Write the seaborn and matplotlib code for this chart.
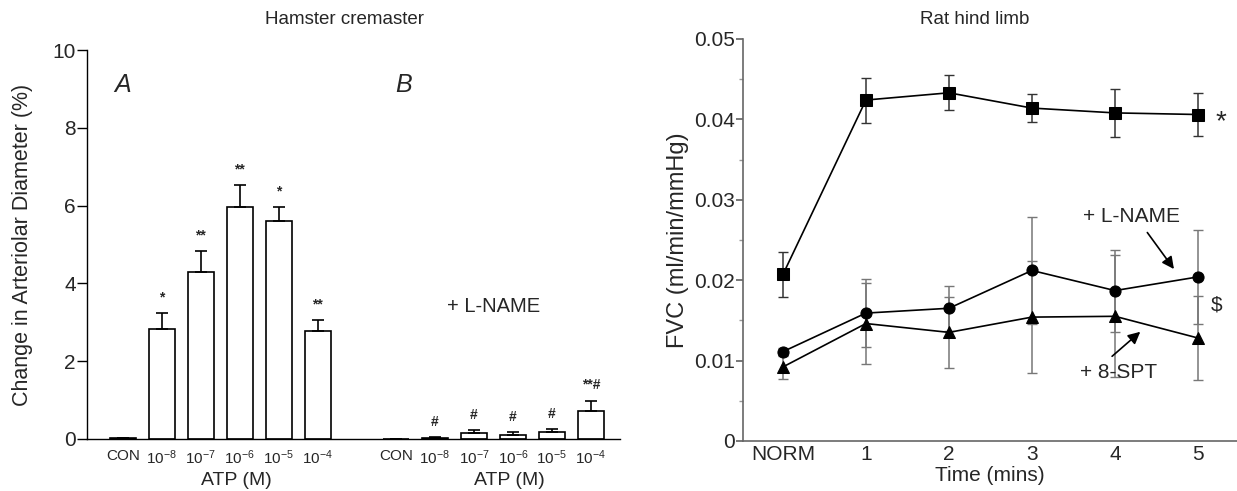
import matplotlib
matplotlib.use("Agg")
import matplotlib.pyplot as plt
import seaborn as sns
import pandas as pd
import numpy as np

sns.set_theme(style="ticks")
plt.rcParams['font.family'] = ['Liberation Sans', 'DejaVu Sans']
plt.rcParams['mathtext.default'] = 'regular'

# ---------------- data: Hamster cremaster ----------------
conc_labels = ["CON", "$10^{-8}$", "$10^{-7}$", "$10^{-6}$", "$10^{-5}$", "$10^{-4}$"]
ctrl_vals = [0.03, 2.84, 4.29, 5.96, 5.61, 2.77]
ctrl_err = [0.0, 0.40, 0.55, 0.57, 0.35, 0.28]
ctrl_sig = ["", "*", "**", "**", "*", "**"]
lname_vals = [0.0, 0.03, 0.16, 0.10, 0.18, 0.73]
lname_err = [0.0, 0.01, 0.06, 0.07, 0.07, 0.25]
lname_sig = ["", "#", "#", "#", "#", "**#"]

# ---------------- data: Rat hind limb ----------------
time_labels = ["NORM", "1", "2", "3", "4", "5"]
ctrl_fvc = [0.0207, 0.0424, 0.0433, 0.0414, 0.0408, 0.0406]
ctrl_fvc_err = [0.0028, 0.0028, 0.0022, 0.0017, 0.0030, 0.0027]
lname_fvc = [0.0111, 0.0159, 0.0165, 0.0212, 0.0187, 0.0204]
lname_fvc_err = [0.0005, 0.0042, 0.0028, 0.0067, 0.0051, 0.0058]
spt_fvc = [0.0092, 0.0146, 0.0135, 0.0154, 0.0155, 0.0128]
spt_fvc_err = [0.0015, 0.0050, 0.0044, 0.0070, 0.0076, 0.0052]

fig = plt.figure(figsize=(12.37, 4.91), dpi=100)
axL = fig.add_axes([0.0703, 0.106, 0.4307, 0.792])
axR = fig.add_axes([0.6007, 0.102, 0.3993, 0.8187])

# ---------- left panel ----------
keysA = ["A%d" % i for i in range(6)]
keysB = ["B%d" % i for i in range(6)]
order = keysA + ["gap"] + keysB
dfL = pd.DataFrame({"key": keysA + keysB, "val": ctrl_vals + lname_vals})
sns.barplot(data=dfL, x="key", y="val", order=order, ax=axL, width=0.65,
            color="white", edgecolor="black", linewidth=1.2, errorbar=None)
posA = np.arange(6)
posB = np.arange(7, 13)
for pos, vals, errs in [(posA, ctrl_vals, ctrl_err), (posB, lname_vals, lname_err)]:
    axL.errorbar(pos, vals, yerr=[np.zeros(6), errs], fmt="none", ecolor="black",
                 elinewidth=1.2, capsize=4, capthick=1.2)
for pos, vals, errs, sig in [(posA, ctrl_vals, ctrl_err, ctrl_sig), (posB, lname_vals, lname_err, lname_sig)]:
    for p, v, e, s in zip(pos, vals, errs, sig):
        if s:
            axL.text(p, v + e + 0.22, s, ha="center", va="bottom", fontsize=10, fontweight="bold")

axL.set_xlim(-0.92, 12.74)
axL.set_ylim(0, 10)
axL.set_yticks([0, 2, 4, 6, 8, 10])
axL.set_xticks(list(posA) + list(posB))
axL.set_xticklabels(conc_labels + conc_labels, fontsize=11)
axL.tick_params(axis="x", length=0, pad=7)
axL.tick_params(axis="y", labelsize=15, length=7, width=1, color="black", pad=1)
axL.set_xlabel("")
axL.set_ylabel("Change in Arteriolar Diameter (%)", fontsize=15.5)
axL.yaxis.set_label_coords(-0.101, 0.5)
for sp in ["top", "right"]:
    axL.spines[sp].set_visible(False)
for sp in ["left", "bottom"]:
    axL.spines[sp].set_color("black")
    axL.spines[sp].set_linewidth(1.0)
axL.text(2.9, -0.108, "ATP (M)", transform=axL.get_xaxis_transform(), ha="center", va="center", fontsize=14)
axL.text(9.9, -0.108, "ATP (M)", transform=axL.get_xaxis_transform(), ha="center", va="center", fontsize=14)
axL.text(0.0, 9.1, "A", fontsize=18, fontstyle="italic", ha="center", va="center")
axL.text(7.2, 9.1, "B", fontsize=18, fontstyle="italic", ha="center", va="center")
axL.text(9.5, 3.4, "+ L-NAME", fontsize=14.5, ha="center", va="center")
fig.text(345 / 1237, 1 - 19 / 491, "Hamster cremaster", ha="center", va="center", fontsize=13.5)

# ---------- right panel ----------
x = np.arange(6)
dfR = pd.DataFrame({
    "t": np.concatenate([x, x, x]),
    "fvc": ctrl_fvc + lname_fvc + spt_fvc,
    "grp": ["ctrl"] * 6 + ["lname"] * 6 + ["spt"] * 6,
})
for errs, vals, col in [(lname_fvc_err, lname_fvc, "#777777"), (spt_fvc_err, spt_fvc, "#777777"),
                        (ctrl_fvc_err, ctrl_fvc, "#333333")]:
    axR.errorbar(x, vals, yerr=errs, fmt="none", ecolor=col, elinewidth=1.1, capsize=3.5, capthick=1.0)
sns.lineplot(data=dfR, x="t", y="fvc", style="grp", markers={"ctrl": "s", "lname": "o", "spt": "^"},
             dashes=False, color="black", markersize=8, linewidth=1.2, ax=axR, legend=False,
             markeredgecolor="black", zorder=3)

axR.set_xlim(-0.48, 5.47)
axR.set_ylim(0, 0.05)
axR.set_yticks([0, 0.01, 0.02, 0.03, 0.04, 0.05])
axR.set_yticklabels(["0", "0.01", "0.02", "0.03", "0.04", "0.05"])
axR.set_yticks(np.arange(0.005, 0.05, 0.01), minor=True)
axR.set_xticks(x)
axR.set_xticklabels(time_labels)
axR.tick_params(axis="x", length=0, labelsize=15, pad=3)
axR.tick_params(axis="y", which="major", labelsize=15, length=5, color="#666666", pad=1)
axR.tick_params(axis="y", which="minor", length=3, color="#999999")
axR.set_xlabel("Time (mins)", fontsize=15)
axR.xaxis.set_label_coords(0.5, -0.062)
axR.set_ylabel("FVC (ml/min/mmHg)", fontsize=17)
axR.yaxis.set_label_coords(-0.11, 0.5)
for sp in ["top", "right"]:
    axR.spines[sp].set_visible(False)
for sp in ["left", "bottom"]:
    axR.spines[sp].set_color("#666666")
    axR.spines[sp].set_linewidth(1.2)

axR.text(5.27, 0.0396, "*", fontsize=20, ha="center", va="center")
axR.text(5.22, 0.0169, "$", fontsize=15, ha="center", va="center")
axR.text(4.2, 0.0279, "+ L-NAME", fontsize=15, ha="center", va="center")
axR.annotate("", xy=(4.73, 0.0211), xytext=(4.37, 0.0262),
             arrowprops=dict(arrowstyle="-|>", color="black", lw=1.2, mutation_scale=18))
axR.text(4.04, 0.0085, "+ 8-SPT", fontsize=15, ha="center", va="center")
axR.annotate("", xy=(4.33, 0.0138), xytext=(3.94, 0.0103),
             arrowprops=dict(arrowstyle="-|>", color="black", lw=1.2, mutation_scale=18))
fig.text(975 / 1237, 1 - 20 / 491, "Rat hind limb", ha="center", va="center", fontsize=13.5)

fig.savefig("out.png", dpi=100)
